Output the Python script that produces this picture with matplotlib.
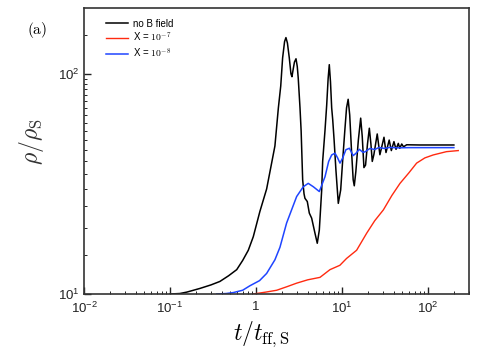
import matplotlib
matplotlib.use("Agg")
import matplotlib.pyplot as plt
from matplotlib.ticker import FixedLocator, LogLocator, NullFormatter

plt.rcParams['font.family'] = ['Liberation Sans', 'DejaVu Sans']
plt.rcParams['mathtext.fontset'] = 'custom'
plt.rcParams['mathtext.rm'] = 'Liberation Sans'
plt.rcParams['mathtext.it'] = 'Liberation Sans:italic'

# curves
t_nob = [0.1, 0.13, 0.157, 0.223, 0.3, 0.38, 0.48, 0.597, 0.7, 0.814, 0.93, 1.11, 1.33, 1.52,
         1.66, 1.82, 1.94, 2.04, 2.15, 2.23, 2.32, 2.44, 2.55, 2.62, 2.72, 2.8, 2.92, 3.02, 3.1,
         3.25, 3.35, 3.49, 3.62, 3.71, 3.95, 4.17, 4.44, 4.85, 5.16, 5.45, 5.81, 5.96, 6.35, 6.64,
         6.9, 7.12, 7.35, 7.59, 7.8, 8.1, 8.5, 9.06, 9.66, 10.2, 10.8, 11.3, 11.8, 12.3, 12.9,
         13.5, 13.9, 14.5, 15.5, 16.5, 17.2, 18, 18.8, 19.8, 20.8, 21.7, 22.5, 23.5, 25.7, 27.6,
         30.8, 32.5, 35.4, 37.5, 40.2, 42.5, 45.2, 47, 49.5, 52, 56.5, 80, 120, 200]
rho_nob = [10, 10.05, 10.2, 10.6, 11.0, 11.4, 12.1, 12.9, 14.2, 15.8, 18.2, 23.7, 30, 39.3,
           47, 69.9, 88, 118, 140, 146, 138, 118, 100, 97, 106, 113, 117, 108, 95.6,
           70, 55, 33, 28.5, 27.2, 26.3, 23.3, 22.1, 18.9, 17.0, 19.5, 29.7, 40, 55.5, 72,
           95, 110, 92, 70, 62, 50, 36.6, 25.8, 29.7, 40.7, 55.5, 70, 76.6, 65, 45,
           33, 31, 36, 50, 62.9, 52, 37.5, 38.5, 48, 56.6, 48, 40, 43, 53.3, 42.9,
           51.5, 43.9, 50, 44.8, 49.2, 45.4, 48.3, 45.9, 48.0, 46.6, 47.6, 47.5, 47.5, 47.5]

t_x7 = [0.93, 1.3, 1.74, 2.3, 2.97, 4, 5.55, 7.25, 9.45, 11.3, 14.8, 19.4, 24, 30.3, 38,
        47.3, 60, 73.8, 92, 115, 164, 225]
rho_x7 = [10, 10.2, 10.4, 10.8, 11.2, 11.6, 11.9, 12.9, 13.5, 14.5, 15.8, 18.9, 21.5, 24.1, 28,
          31.8, 35.5, 39.3, 41.5, 42.8, 44.3, 44.8]

t_x8 = [0.35, 0.45, 0.545, 0.7, 0.85, 1.1, 1.33, 1.66, 1.9, 2.27, 2.97, 3.55, 4.05, 4.64, 5.45,
        6.35, 7.0, 7.59, 8.3, 8.9, 9.48, 10.2, 11.1, 12.2, 13.5, 14.5, 15.9, 17.5, 18.5, 21.1,
        24, 27, 31, 36, 45, 60, 100, 200]
rho_x8 = [10, 10.05, 10.15, 10.4, 10.9, 11.5, 12.4, 14.3, 16.3, 21, 27.7, 30.7, 31.8, 30.7, 29.2,
          34.1, 40, 42.8, 43.6, 41.5, 39.3, 41.5, 45.2, 45.9, 42.5, 43.5, 45.4, 44.0, 44.2, 45.8,
          45.3, 46.3, 45.8, 46.3, 46.1, 46.2, 46.2, 46.2]

xticks = [0.01, 0.1, 1, 10, 100]
xticklabels = ['10$^{-2}$', '10$^{-1}$', '1', '10$^{1}$', '10$^{2}$']
yticks = [10, 100]
yticklabels = ['10$^{1}$', '10$^{2}$']

fig = plt.figure(figsize=(4.91, 3.51), dpi=100)
ax = fig.add_axes([84/491, 57/351, 385/491, 286.5/351])

ax.plot(t_nob, rho_nob, color='black', lw=1.1, label='no B field')
ax.plot(t_x7, rho_x7, color='#ff2a10', lw=1.0, label='X = $10^{-7}$')
ax.plot(t_x8, rho_x8, color='#1f45ff', lw=1.1, label='X = $10^{-8}$')

ax.set_xscale('log')
ax.set_yscale('log')
ax.set_xlim(0.01, 300)
ax.set_ylim(10, 200)

ax.set_xticks(xticks)
ax.set_xticklabels(xticklabels)
ax.xaxis.set_minor_locator(LogLocator(base=10, subs=range(2, 10)))
ax.xaxis.set_minor_formatter(NullFormatter())
ax.set_yticks(yticks)
ax.set_yticklabels(yticklabels)
ax.yaxis.set_minor_locator(FixedLocator(list(range(15, 100, 5)) + [150]))
ax.yaxis.set_minor_formatter(NullFormatter())

ax.tick_params(which='both', direction='in', top=False, right=False, labelsize=9.5, colors='#222222')
ax.tick_params(which='major', length=5, width=1.0)
ax.tick_params(which='minor', length=2.5, width=0.7)
ax.tick_params(axis='x', pad=5)
ax.tick_params(axis='y', pad=3)
for sp in ax.spines.values():
    sp.set_linewidth(1.2)
    sp.set_color('#333333')

xl = ax.set_xlabel(r'$t/t_{\rm ff,S}$', fontsize=17)
xl.set_math_fontfamily('cm')
ax.xaxis.set_label_coords(0.46, -0.09)
yl = ax.set_ylabel(r'$\rho/\rho_{\rm S}$', fontsize=17, color='#333333')
yl.set_math_fontfamily('cm')
ax.yaxis.set_label_coords(-0.1, 0.53)

lab = fig.text(27/491, 1 - 30/351, r'$\mathrm{(a)}$', fontsize=11, va='center', ha='left')
lab.set_math_fontfamily('cm')

leg = ax.legend(loc='upper left', frameon=False, fontsize=7, handlelength=2.2,
                handletextpad=0.6, labelspacing=0.25, borderaxespad=0.3,
                bbox_to_anchor=(0.04, 0.985))
for txt in leg.get_texts():
    txt.set_math_fontfamily('cm')

fig.savefig('out.png', dpi=100)
